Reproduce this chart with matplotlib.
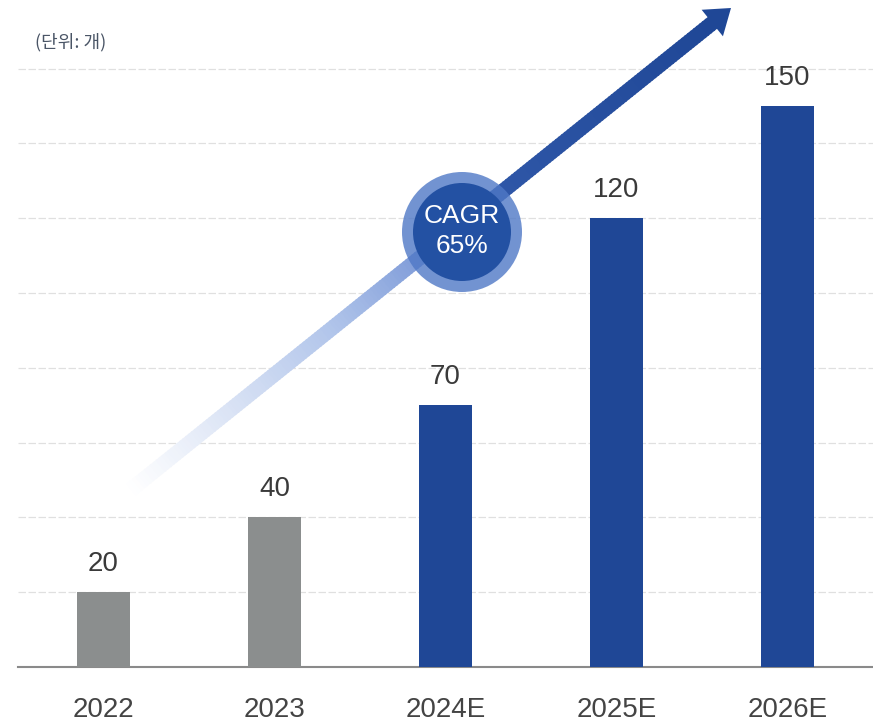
import numpy as np
import matplotlib
matplotlib.use("Agg")
import matplotlib.pyplot as plt
from matplotlib.collections import PolyCollection
from matplotlib.colors import LinearSegmentedColormap
from matplotlib.patches import Circle, Polygon

# data
years = ["2022", "2023", "2024E", "2025E", "2026E"]
counts = [20, 40, 70, 120, 150]
cagr_text = "CAGR\n65%"
unit_text = "(단위: 개)"

NAVY = "#1f4796"
GRAY = "#8b8e8e"
TEXT = "#3a3a3a"

plt.rcParams["font.family"] = ["Liberation Sans", "Noto Sans CJK KR", "DejaVu Sans"]

fig = plt.figure(figsize=(8.73, 7.24), dpi=100)
ax = fig.add_axes([18 / 873, 57 / 724, 855 / 873, 617 / 724])

x = np.arange(len(years))
colors = [NAVY if y.endswith("E") else GRAY for y in years]
bars = ax.bar(x, counts, width=0.31, color=colors, zorder=3)

for b, v in zip(bars, counts):
    ax.annotate(str(v), (b.get_x() + b.get_width() / 2, v),
                xytext=(0, 11), textcoords="offset points",
                ha="center", va="bottom", fontsize=20, color=TEXT)

ax.set_xlim(-0.5, len(years) - 0.5)
ax.set_ylim(0, 165)
ax.set_yticks(np.arange(20, 161, 20))
ax.yaxis.grid(True, color="#e0e0e0", linewidth=0.9, linestyle=(0, (6, 2)))
ax.set_axisbelow(True)
ax.tick_params(axis="y", left=False, labelleft=False)
ax.tick_params(axis="x", bottom=False, pad=18)
ax.set_xticks(x)
ax.set_xticklabels(years, fontsize=20, color="#444444")
for s in ["top", "right", "left"]:
    ax.spines[s].set_visible(False)
ax.spines["bottom"].set_color("#8a8a8a")
ax.spines["bottom"].set_linewidth(1.5)

# overlay in pixel units for the growth arrow and badge
ov = fig.add_axes([0, 0, 1, 1], zorder=5)
ov.set_xlim(0, 873)
ov.set_ylim(724, 0)
ov.axis("off")

p0 = np.array([128.0, 492.0])
tip = np.array([731.0, 8.0])
d = (tip - p0) / np.linalg.norm(tip - p0)
n = np.array([-d[1], d[0]])
head_len, head_half, shaft_half = 24.0, 17.0, 7.5
base = tip - d * head_len

cmap = LinearSegmentedColormap.from_list(
    "fade", [(0.0, "#ffffff"), (0.12, "#e6ecf8"), (0.35, "#b0c4ea"),
             (0.52, "#7896d6"), (0.62, "#2f57a8"), (1.0, NAVY)])
ts = np.linspace(0, 1, 200)
quads, qcols = [], []
for t0, t1 in zip(ts[:-1], ts[1:]):
    a = p0 + (base - p0) * t0
    b = p0 + (base - p0) * (t1 + 0.002)
    quads.append([a + n * shaft_half, b + n * shaft_half,
                  b - n * shaft_half, a - n * shaft_half])
    qcols.append(cmap(t0))
ov.add_collection(PolyCollection(quads, facecolors=qcols, edgecolors="none"))
ov.add_patch(Polygon([tip, base + n * head_half, base - n * head_half],
                     closed=True, facecolor=NAVY, edgecolor="none"))

# CAGR badge
cx, cy = 462, 232
ov.add_patch(Circle((cx, cy), 60, facecolor="#4f78c6", alpha=0.8, edgecolor="none"))
ov.add_patch(Circle((cx, cy), 49, facecolor="#2351a3", edgecolor="none"))
ov.text(cx, cy - 1, cagr_text, ha="center", va="center", fontsize=19,
        color="white", linespacing=1.3)

fig.text(35 / 873, 1 - 42 / 724, unit_text, fontsize=13, color="#4a5566",
         va="center", ha="left", family=["Noto Sans CJK KR", "DejaVu Sans"])

fig.savefig("out.png", dpi=100, facecolor="white")
